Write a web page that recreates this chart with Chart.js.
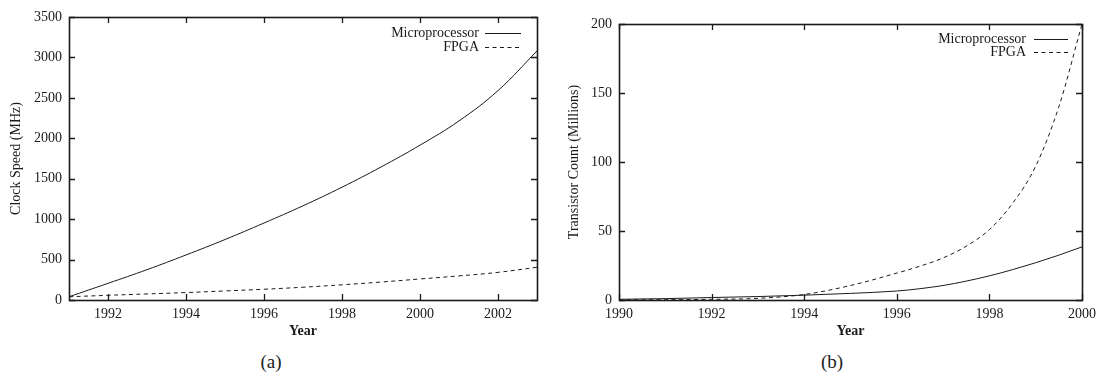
<!DOCTYPE html>
<html>
<head>
<meta charset="utf-8">
<script src="https://cdn.jsdelivr.net/npm/chart.js@4/dist/chart.umd.min.js"></script>
<style>
  body { margin: 0; background: #fff; width: 1104px; height: 376px; position: relative; overflow: hidden; }
  canvas { position: absolute; top: 0; }
  .cap { position: absolute; top: 351px; width: 60px; margin-left: -30px; text-align: center;
         font-family: "Liberation Serif", serif; font-size: 19px; color: #222; }
</style>
</head>
<body>
<canvas id="clockChart" width="552" height="345" style="left:0"></canvas>
<canvas id="transChart" width="552" height="345" style="left:552px"></canvas>
<div class="cap" style="left:271px">(a)</div>
<div class="cap" style="left:832px">(b)</div>
<script>
// (a) clock speed, MHz
const clockYears = [1991, 1992, 1993, 1994, 1995, 1996, 1997, 1998, 1999, 2000, 2001, 2002, 2003];
const clockMicro = [40, 206, 375, 557, 748, 952, 1165, 1395, 1645, 1915, 2215, 2590, 3080];
const clockFpga = [40, 58, 75, 92, 112, 133, 158, 188, 222, 260, 298, 342, 405];
const clockXTicks = [1992, 1994, 1996, 1998, 2000, 2002];

// (b) transistor count, millions
const transYears = [1990, 1991, 1992, 1993, 1994, 1995, 1996, 1996.5, 1997, 1997.5, 1998, 1998.5, 1999, 1999.5, 2000];
const transMicro = [0.5, 1, 1.8, 2.5, 3.5, 4.8, 6.5, 8.2, 10.5, 13.7, 17.5, 22, 27, 32.5, 38.5];
const transFpga = [0.1, 0.2, 0.5, 1.2, 4, 10.5, 19.5, 24.5, 30.5, 39, 51, 70, 97, 140, 200];
const transXTicks = [1990, 1992, 1994, 1996, 1998, 2000];

const seriesNames = ["Microprocessor", "FPGA"];
const FONT = "Liberation Serif";
const INK = "#1a1a1a";
const DASH = [4, 3.5];

// frame + inward ticks on all four sides, gnuplot style
const frameTicks = {
  id: "frameTicks",
  afterDraw(chart) {
    const { ctx, chartArea: a, scales } = chart;
    ctx.save();
    ctx.strokeStyle = INK;
    ctx.lineWidth = 1.3;
    ctx.beginPath();
    scales.x.ticks.forEach(t => {
      const px = Math.round(scales.x.getPixelForValue(t.value)) + 0.5;
      ctx.moveTo(px, a.bottom); ctx.lineTo(px, a.bottom - 6);
      ctx.moveTo(px, a.top); ctx.lineTo(px, a.top + 6);
    });
    scales.y.ticks.forEach(t => {
      const py = Math.round(scales.y.getPixelForValue(t.value)) + 0.5;
      ctx.moveTo(a.left, py); ctx.lineTo(a.left + 6, py);
      ctx.moveTo(a.right, py); ctx.lineTo(a.right - 6, py);
    });
    ctx.stroke();
    ctx.lineWidth = 1.6;
    ctx.strokeRect(Math.round(a.left) + 0.5, Math.round(a.top) + 0.5,
                   Math.round(a.right - a.left), Math.round(a.bottom - a.top));
    ctx.restore();
  }
};

// key in the top right corner, text right-aligned with a line sample
const innerKey = {
  id: "innerKey",
  afterDraw(chart, args, opts) {
    const { ctx, chartArea: a } = chart;
    ctx.save();
    ctx.font = "14px '" + FONT + "'";
    ctx.fillStyle = INK;
    ctx.strokeStyle = INK;
    ctx.lineWidth = 1;
    ctx.textAlign = "right";
    ctx.textBaseline = "middle";
    chart.data.datasets.forEach((ds, i) => {
      const y = Math.round(a.top + opts.rows[i]) + 0.5;
      ctx.fillText(ds.label, a.right - opts.textRight, y);
      ctx.setLineDash(ds.borderDash || []);
      ctx.beginPath();
      ctx.moveTo(a.right - opts.lineFrom, y);
      ctx.lineTo(a.right - opts.lineTo, y);
      ctx.stroke();
    });
    ctx.restore();
  }
};

function pts(xs, ys) {
  return xs.map((x, i) => ({ x: x, y: ys[i] }));
}

function makeChart(id, cfg) {
  return new Chart(document.getElementById(id), {
    type: "line",
    data: {
      datasets: [
        { label: seriesNames[0], data: pts(cfg.years, cfg.micro), borderColor: INK, borderWidth: 1,
          pointRadius: 0, tension: 0.4, cubicInterpolationMode: cfg.interp },
        { label: seriesNames[1], data: pts(cfg.years, cfg.fpga), borderColor: INK, borderWidth: 1,
          borderDash: DASH, pointRadius: 0, tension: 0.4, cubicInterpolationMode: cfg.interp }
      ]
    },
    options: {
      responsive: false,
      animation: false,
      layout: { padding: { top: cfg.padTop, right: cfg.padRight, left: 0, bottom: 0 } },
      plugins: {
        legend: { display: false },
        tooltip: { enabled: false },
        innerKey: cfg.key
      },
      scales: {
        x: {
          type: "linear",
          min: cfg.xMin, max: cfg.xMax,
          afterBuildTicks: s => { s.ticks = cfg.xTicks.map(v => ({ value: v })); },
          afterFit: s => { s.height = 45; },
          grid: { display: false, drawTicks: false, tickLength: 0 },
          border: { display: false },
          ticks: { padding: 6, color: INK, font: { family: FONT, size: 14 },
                   maxRotation: 0, autoSkip: false, callback: v => String(v) },
          title: { display: true, text: "Year", color: INK,
                   font: { family: FONT, size: 14, weight: "bold" }, padding: { top: 0, bottom: 5 } }
        },
        y: {
          min: 0, max: cfg.yMax,
          ticks: { stepSize: cfg.yStep, padding: 7, color: INK, font: { family: FONT, size: 14 },
                   callback: v => String(v) },
          afterFit: s => { s.width = cfg.yWidth; },
          grid: { display: false, drawTicks: false, tickLength: 0 },
          border: { display: false },
          title: { display: true, text: cfg.yTitle, color: INK,
                   font: { family: FONT, size: 14 }, padding: { top: cfg.yTitlePad, bottom: 0 } }
        }
      }
    },
    plugins: [frameTicks, innerKey]
  });
}

makeChart("clockChart", {
  years: clockYears, micro: clockMicro, fpga: clockFpga, xTicks: clockXTicks,
  xMin: 1991, xMax: 2003, yMax: 3500, yStep: 500, interp: "default",
  yTitle: "Clock Speed (MHz)", yWidth: 69, yTitlePad: 8,
  padTop: 17, padRight: 15,
  key: { rows: [16, 29.5], textRight: 58, lineFrom: 52, lineTo: 16 }
});

makeChart("transChart", {
  years: transYears, micro: transMicro, fpga: transFpga, xTicks: transXTicks,
  xMin: 1990, xMax: 2000, yMax: 200, yStep: 50, interp: "monotone",
  yTitle: "Transistor Count (Millions)", yWidth: 67, yTitlePad: 14,
  padTop: 24, padRight: 22,
  key: { rows: [14.5, 27.5], textRight: 56, lineFrom: 48, lineTo: 14 }
});
</script>
</body>
</html>
